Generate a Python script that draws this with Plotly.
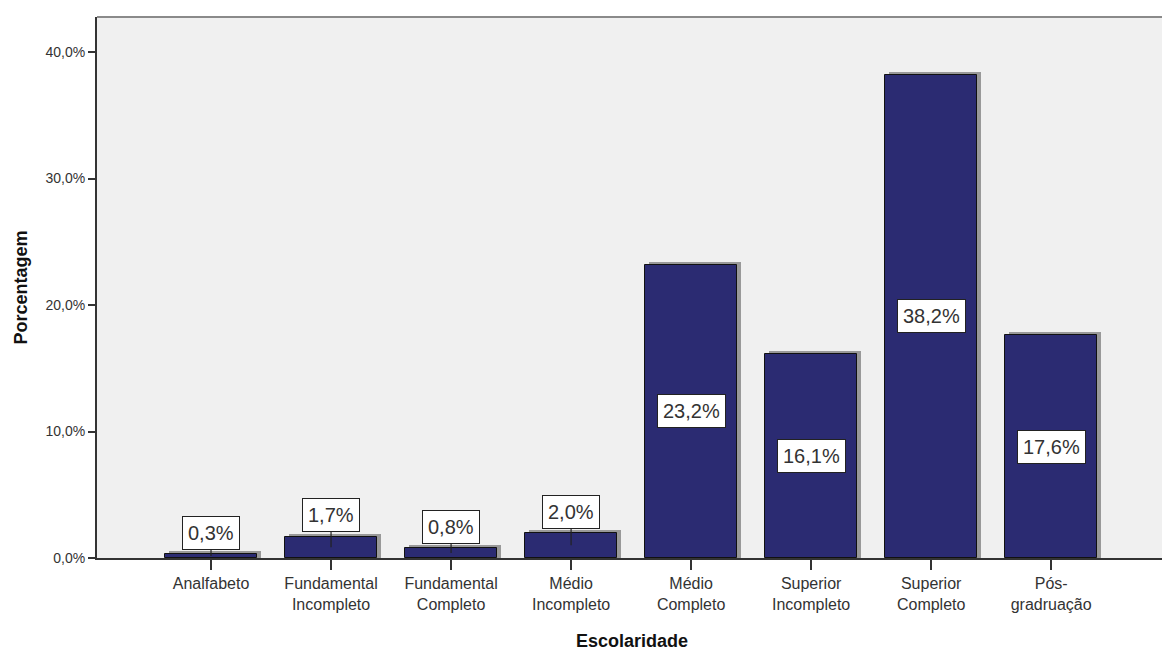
import plotly.graph_objects as go

categories = ["Analfabeto", "Fundamental<br>Incompleto", "Fundamental<br>Completo",
              "Médio<br>Incompleto", "Médio<br>Completo", "Superior<br>Incompleto",
              "Superior<br>Completo", "Pós-<br>gradruação"]
values = [0.3, 1.7, 0.8, 2.0, 23.2, 16.1, 38.2, 17.6]
labels = ["0,3%", "1,7%", "0,8%", "2,0%", "23,2%", "16,1%", "38,2%", "17,6%"]
ytickvals = [0, 10, 20, 30, 40]
yticktext = ["0,0%", "10,0%", "20,0%", "30,0%", "40,0%"]

# page body has an 8px margin, so the figure is sized to end at the window edge
W, H = 1162, 642
ML, MR, MT, MB = 89, 0, 9, 92
YMAX = 42.77
XMIN, XMAX = -0.95, 7.99
px_per_x = (W - ML - MR) / (XMAX - XMIN)
px_per_y = (H - MT - MB) / YMAX
bar_w = 0.767
sdx = 4 / px_per_x
sdy = 3 / px_per_y

xs = list(range(len(categories)))

fig = go.Figure()
fig.add_trace(go.Bar(x=[i + sdx for i in xs], y=[v + sdy for v in values], width=bar_w,
                     marker=dict(color="#999999", line=dict(width=0)),
                     hoverinfo="skip", showlegend=False))
fig.add_trace(go.Bar(x=xs, y=values, width=bar_w,
                     marker=dict(color="#2b2b72", line=dict(color="#111111", width=1)),
                     showlegend=False))

lab_font = dict(family="Arial", size=20, color="#333")
for i, (v, lab) in enumerate(zip(values, labels)):
    if v < 5:
        fig.add_annotation(x=i, y=v / 2, text=lab, showarrow=True, arrowhead=0,
                           arrowwidth=1.2, arrowcolor="#222", ax=0,
                           ay=-(v / 2 * px_per_y + 21),
                           bgcolor="white", bordercolor="#222", borderwidth=1, borderpad=5,
                           font=lab_font)
    else:
        fig.add_annotation(x=i, y=v / 2, text=lab, showarrow=False,
                           bgcolor="white", bordercolor="#222", borderwidth=1, borderpad=5,
                           font=lab_font)

# axis titles
fig.add_annotation(xref="paper", yref="paper", x=0, y=0.5, xshift=-77, textangle=-90,
                   xanchor="center", yanchor="middle",
                   text="<b>Porcentagem</b>", showarrow=False,
                   font=dict(family="Arial", size=18, color="#111"))
fig.add_annotation(xref="paper", yref="paper", x=(632 - 8 - ML) / (W - ML - MR), y=0, yshift=-83,
                   xanchor="center", yanchor="middle",
                   text="<b>Escolaridade</b>", showarrow=False,
                   font=dict(family="Arial", size=18, color="#111"))

fig.add_shape(type="line", xref="paper", yref="paper", x0=0, x1=1, y0=1, y1=1,
              line=dict(color="#8a8a8a", width=2))

fig.update_layout(
    width=W, height=H,
    margin=dict(l=ML, r=MR, t=MT, b=MB, autoexpand=False),
    paper_bgcolor="white", plot_bgcolor="#f0f0f0",
    barmode="overlay", bargap=0,
    font=dict(family="Arial", color="#333"),
    xaxis=dict(range=[XMIN, XMAX], tickvals=xs, ticktext=categories, automargin=False,
               showgrid=False, zeroline=False, showline=True, linecolor="#333", linewidth=2,
               ticks="outside", ticklen=10, tickwidth=2, tickcolor="#333",
               tickfont=dict(family="Arial", size=16, color="#333")),
    yaxis=dict(range=[0, YMAX], tickvals=ytickvals, ticktext=yticktext, automargin=False,
               showgrid=False, zeroline=False, showline=True, linecolor="#333", linewidth=2,
               ticks="outside", ticklen=7, tickwidth=2, tickcolor="#333",
               tickfont=dict(family="Arial", size=14, color="#333")),
)

fig.write_html("out.html")
